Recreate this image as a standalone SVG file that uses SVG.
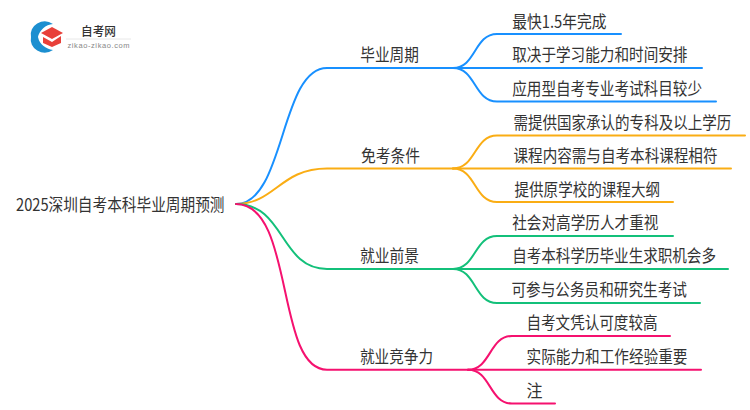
<svg xmlns="http://www.w3.org/2000/svg" width="750" height="410" viewBox="0 0 750 410">
<style>
text{font-family:"Noto Sans CJK SC","Noto Sans",sans-serif;font-size:16.800px;fill:#333}
.c{fill:none;stroke-width:2;stroke-linecap:round}
.b{stroke:#1890ff}.o{stroke:#faad14}.g{stroke:#13c07a}.p{stroke:#f5116f}
</style>
<rect width="750" height="410" fill="#fff"/>
<g id="logo">
<path d="M53 24A14 13 0 0 0 31 37A14 13 0 0 0 53 50A17 16 0 0 1 38 37A17 16 0 0 1 53 24Z" fill="#1c8fd0"/>
<path d="M41 33L52 27L63 33L52 39Z" fill="#e8403a"/>
<path d="M43 37L52 42L61 36V43L52 47L43 43Z" fill="#e8403a"/>
<text x="81" y="36" textLength="35" lengthAdjust="spacingAndGlyphs" style="font-size:12.500px;font-weight:500;fill:#333">自考网</text>
<line x1="66" y1="39" x2="131" y2="39" stroke="#e8e8e8"/>
<text x="67.500" y="48" textLength="62" style="font-size:7.500px;fill:#888;font-family:'Liberation Sans',sans-serif">zikao-zikao.com</text>
</g>
<g id="connectors">
<path class="c b" d="M236 204C285 204 280 68 327 68H453"/>
<path class="c o" d="M236 204C275 204 280 168.500 327 168.500H453"/>
<path class="c g" d="M236 204C285 204 280 269 327 269H453"/>
<path class="c p" d="M236 204C295 204 275 369.700 327 369.700H468"/>
<path class="c b" d="M453 68C476 68 474 34 497 34H621"/>
<path class="c b" d="M453 68H702"/>
<path class="c b" d="M453 68C476 68 474 101.500 497 101.500H716"/>
<path class="c o" d="M453 168.500C476 168.500 474 135.500 497 135.500H745"/>
<path class="c o" d="M453 168.500H731"/>
<path class="c o" d="M453 168.500C476 168.500 474 202 497 202H673"/>
<path class="c g" d="M453 269C476 269 474 236 497 236H673"/>
<path class="c g" d="M453 269H728"/>
<path class="c g" d="M453 269C476 269 474 303 497 303H700"/>
<path class="c p" d="M468 369.700C491 369.700 489 336 512 336H670"/>
<path class="c p" d="M468 369.700H701"/>
<path class="c p" d="M468 369.700C491 369.700 489 403.500 512 403.500H555"/>
</g>
<g id="root"><text x="16" y="211" textLength="208.500" lengthAdjust="spacingAndGlyphs">2025深圳自考本科毕业周期预测</text></g>
<g id="n1"><text x="360.300" y="61" textLength="58.500" lengthAdjust="spacingAndGlyphs">毕业周期</text></g>
<g id="n2"><text x="361" y="161.500" textLength="59" lengthAdjust="spacingAndGlyphs">免考条件</text></g>
<g id="n3"><text x="360" y="262" textLength="59" lengthAdjust="spacingAndGlyphs">就业前景</text></g>
<g id="n4"><text x="360" y="362.500" textLength="73" lengthAdjust="spacingAndGlyphs">就业竞争力</text></g>
<g id="n1a"><text x="512.200" y="27.500" textLength="94.300" lengthAdjust="spacingAndGlyphs">最快1.5年完成</text></g>
<g id="n1b"><text x="512.200" y="61" textLength="175.300" lengthAdjust="spacingAndGlyphs">取决于学习能力和时间安排</text></g>
<g id="n1c"><text x="512.200" y="94.500" textLength="189.800" lengthAdjust="spacingAndGlyphs">应用型自考专业考试科目较少</text></g>
<g id="n2a"><text transform="translate(513.500 128.500) scale(.865 1)">需提供国家承认的专科及以上学历</text></g>
<g id="n2b"><text x="513.500" y="161.500" textLength="204" lengthAdjust="spacingAndGlyphs">课程内容需与自考本科课程相符</text></g>
<g id="n2c"><text x="514.500" y="195.500" textLength="145.500" lengthAdjust="spacingAndGlyphs">提供原学校的课程大纲</text></g>
<g id="n3a"><text x="512.200" y="228.500" textLength="146.300" lengthAdjust="spacingAndGlyphs">社会对高学历人才重视</text></g>
<g id="n3b"><text x="512.200" y="262" textLength="203.800" lengthAdjust="spacingAndGlyphs">自考本科学历毕业生求职机会多</text></g>
<g id="n3c"><text x="511.500" y="295.500" textLength="175.500" lengthAdjust="spacingAndGlyphs">可参与公务员和研究生考试</text></g>
<g id="n4a"><text x="526.500" y="329" textLength="131" lengthAdjust="spacingAndGlyphs">自考文凭认可度较高</text></g>
<g id="n4b"><text x="526.500" y="362.500" textLength="161" lengthAdjust="spacingAndGlyphs">实际能力和工作经验重要</text></g>
<g id="n4c"><text x="526.500" y="396.500" textLength="16" lengthAdjust="spacingAndGlyphs">注</text></g>
</svg>
